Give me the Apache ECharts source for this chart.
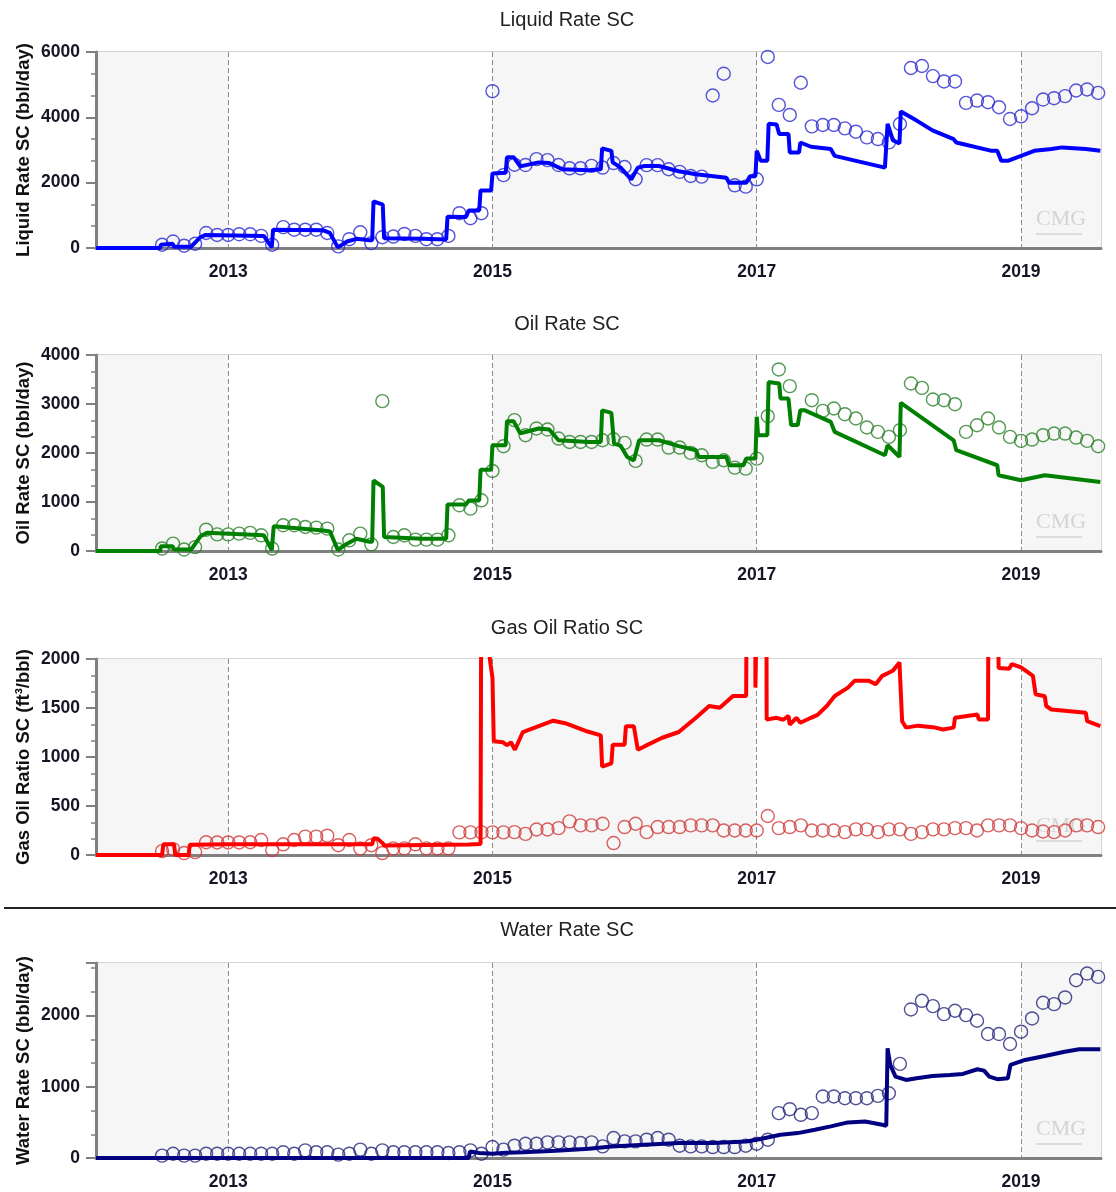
<!DOCTYPE html>
<html><head><meta charset="utf-8">
<script src="https://cdn.jsdelivr.net/npm/echarts@6/dist/echarts.min.js"></script>
<style>html,body{margin:0;padding:0;background:#fff;}#main{width:1116px;height:1192px;}</style>
</head><body><div id="main"></div>
<script>
// ---------------- DATA ----------------
// Observed monthly values, first value = July 2012 (month index 6 from Jan 2012)
const obsFirstMonth = 6;
const liquidObs = [100,200,70,130,460,400,400,420,420,370,100,640,560,560,560,460,50,270,480,150,330,350,430,370,270,270,370,1065,910,1065,
  4800,2230,2550,2540,2720,2690,2540,2440,2440,2514,2463,2600,2480,2104,2536,2536,2411,2329,2206,2186,4668,5335,1919,1878,
  2103,5848,4381,4073,5058,3724,3765,3765,3663,3560,3386,3335,3232,3796,5510,5571,5263,5099,5099,4443,4514,4463,4309,3950,
  4032,4278,4545,4586,4648,4822,4853,4750];
const oilObs = [50,150,30,80,435,340,340,354,370,320,50,525,525,490,477,456,30,218,354,136,3058,286,320,232,232,232,320,933,865,1035,
  1634,2138,2670,2363,2500,2479,2295,2226,2226,2226,2260,2280,2206,1839,2274,2274,2111,2111,2002,1954,1818,1852,1702,1682,
  1886,2751,3705,3364,null,3078,2860,2908,2792,2704,2520,2431,2329,2465,3419,3330,3092,3078,2996,2431,2567,2704,2520,2329,
  2247,2274,2363,2397,2397,2315,2247,2138];
const gorObs = [40,60,20,30,130,128,128,128,130,153,51,109,153,187,187,197,100,153,68,100,20,68,68,109,68,68,68,231,231,231,
  231,231,233,216,260,260,274,343,302,302,319,122,285,319,233,285,285,285,302,302,302,250,250,250,
  250,398,274,285,302,250,250,250,233,261,261,233,261,261,216,233,261,261,274,274,250,302,302,302,
  274,250,240,233,250,302,302,285];
const waterObs = [33,60,33,33,60,60,60,60,60,60,60,80,60,107,80,80,47,60,117,60,107,80,80,80,80,80,70,80,107,60,
  154,117,173,200,200,220,220,220,210,219,163,280,233,233,257,280,257,173,163,163,154,154,154,173,
  200,257,630,686,607,630,864,864,840,840,840,873,910,1322,2087,2209,2134,2022,2069,2008,1929,1742,1742,1602,
  1775,1961,2181,2162,2256,2498,2592,2545];

// Simulated series: [decimal year, value]
const liquidSim = [[2012.0,0],[2012.486,0],[2012.49,100],[2012.58,130],[2012.59,40],[2012.72,40],[2012.79,330],[2012.83,400],
  [2013.27,370],[2013.33,20],[2013.34,560],[2013.72,540],[2013.77,460],[2013.83,20],[2013.90,200],[2013.97,280],[2014.07,240],
  [2014.09,240],[2014.10,1430],[2014.17,1330],[2014.18,300],[2014.47,280],[2014.65,260],[2014.66,960],[2014.80,950],
  [2014.82,1150],[2014.90,1150],[2014.91,1760],[2014.99,1760],[2015.00,2280],[2015.10,2300],[2015.11,2780],[2015.16,2780],
  [2015.21,2500],[2015.28,2560],[2015.35,2620],[2015.43,2600],[2015.53,2410],[2015.73,2380],[2015.82,2410],[2015.83,3050],
  [2015.90,2975],[2015.91,2620],[2015.97,2460],[2016.05,2100],[2016.10,2460],[2016.15,2510],[2016.26,2510],[2016.41,2350],
  [2016.54,2260],[2016.77,2150],[2016.79,2000],[2016.92,2000],[2016.95,2200],[2016.99,2200],[2017.00,2975],[2017.03,2670],
  [2017.08,2670],[2017.09,3800],[2017.15,3780],[2017.17,3490],[2017.24,3490],[2017.25,2920],[2017.32,2920],[2017.33,3230],
  [2017.41,3100],[2017.56,3030],[2017.59,2820],[2017.97,2460],[2017.99,3800],[2018.03,3300],[2018.08,3200],[2018.09,4180],
  [2018.21,3900],[2018.33,3600],[2018.49,3330],[2018.51,3230],[2018.77,2980],[2018.82,2980],[2018.85,2670],[2018.90,2670],
  [2019.00,2820],[2019.10,2975],[2019.23,3030],[2019.31,3080],[2019.49,3030],[2019.60,2975]];
const oilSim = [[2012.0,0],[2012.486,0],[2012.49,95],[2012.58,95],[2012.59,30],[2012.72,30],[2012.79,300],[2012.84,370],
  [2013.27,320],[2013.33,20],[2013.345,505],[2013.72,420],[2013.77,400],[2013.83,20],[2013.90,150],[2013.97,250],[2014.07,190],
  [2014.09,190],[2014.10,1440],[2014.17,1310],[2014.18,286],[2014.47,250],[2014.65,250],[2014.66,950],[2014.80,950],
  [2014.82,1030],[2014.90,1030],[2014.91,1660],[2014.99,1660],[2015.00,2160],[2015.10,2160],[2015.11,2650],[2015.16,2650],
  [2015.21,2400],[2015.28,2450],[2015.35,2500],[2015.43,2480],[2015.50,2260],[2015.73,2226],[2015.82,2226],[2015.83,2870],
  [2015.90,2820],[2015.92,2190],[2015.97,2150],[2016.02,1920],[2016.07,1850],[2016.11,2260],[2016.26,2260],[2016.41,2140],
  [2016.54,2057],[2016.56,1920],[2016.77,1920],[2016.79,1750],[2016.90,1750],[2016.92,1886],[2016.99,1886],[2017.00,2740],
  [2017.01,2363],[2017.08,2363],[2017.09,3450],[2017.17,3420],[2017.18,3110],[2017.24,3110],[2017.26,2570],[2017.31,2570],
  [2017.33,2874],[2017.36,2874],[2017.56,2635],[2017.59,2430],[2017.97,1954],[2017.99,2160],[2018.05,2000],[2018.08,1920],
  [2018.09,3024],[2018.49,2260],[2018.51,2057],[2018.82,1750],[2018.83,1546],[2019.00,1444],[2019.18,1546],[2019.60,1410]];
const gorSim = [[2012.0,0],[2012.50,0],[2012.51,110],[2012.59,110],[2012.60,0],[2012.70,0],[2012.71,105],[2013.00,110],
  [2014.09,110],[2014.10,170],[2014.13,165],[2014.17,120],[2014.18,96],[2014.82,106],[2014.83,113],[2014.91,113],
  [2014.92,5000],[2014.97,5000],[2014.98,2000],[2015.00,1810],[2015.01,1160],[2015.08,1150],[2015.11,1120],[2015.14,1150],
  [2015.17,1074],[2015.23,1255],[2015.30,1290],[2015.40,1340],[2015.46,1370],[2015.55,1345],[2015.66,1290],[2015.72,1260],
  [2015.82,1221],[2015.83,902],[2015.90,936],[2015.91,1125],[2016.00,1125],[2016.01,1314],[2016.07,1314],[2016.10,1074],
  [2016.15,1108],[2016.28,1194],[2016.41,1255],[2016.54,1400],[2016.64,1520],[2016.72,1502],[2016.82,1622],[2016.92,1622],
  [2016.93,5000],[2016.985,5000],[2016.99,1708],[2017.03,5000],[2017.07,5000],[2017.075,1382],[2017.15,1400],[2017.20,1380],
  [2017.24,1420],[2017.25,1330],[2017.30,1400],[2017.33,1350],[2017.41,1400],[2017.46,1430],[2017.53,1520],[2017.59,1622],
  [2017.69,1708],[2017.74,1777],[2017.85,1777],[2017.90,1742],[2017.95,1828],[2018.03,1880],[2018.08,1965],[2018.09,1965],
  [2018.10,1365],[2018.13,1300],[2018.22,1320],[2018.35,1300],[2018.41,1280],[2018.49,1300],[2018.50,1400],[2018.67,1434],
  [2018.68,1382],[2018.75,1382],[2018.76,5000],[2018.82,5000],[2018.83,1907],[2018.91,1900],[2018.93,1948],[2019.00,1914],
  [2019.09,1828],[2019.11,1640],[2019.18,1620],[2019.19,1520],[2019.23,1485],[2019.49,1451],[2019.50,1365],[2019.60,1314]];
const waterSim = [[2012.0,0],[2014.82,0],[2014.83,90],[2014.90,70],[2015.00,60],[2015.10,75],[2015.23,80],[2015.48,103],
  [2015.73,130],[2015.90,163],[2016.15,187],[2016.41,210],[2016.67,210],[2016.92,233],[2017.00,257],[2017.18,327],
  [2017.31,350],[2017.44,397],[2017.56,444],[2017.69,500],[2017.82,514],[2017.95,467],[2017.98,453],[2017.99,1541],
  [2018.01,1308],[2018.05,1144],[2018.13,1097],[2018.21,1120],[2018.33,1153],[2018.46,1167],[2018.56,1181],[2018.67,1247],
  [2018.72,1228],[2018.76,1144],[2018.82,1107],[2018.90,1120],[2018.92,1308],[2019.03,1378],[2019.18,1434],[2019.33,1494],
  [2019.44,1527],[2019.60,1527]];

const panelTitles = ['Liquid Rate SC','Oil Rate SC','Gas Oil Ratio SC','Water Rate SC'];
const yNames = ['Liquid Rate SC (bbl/day)','Oil Rate SC (bbl/day)','Gas Oil Ratio SC (ft\u00B3/bbl)','Water Rate SC (bbl/day)'];
const yMax = [6000,4000,2000,2740];
const yStep = [2000,1000,500,1000];
const xMin = 2012, xMax = 2019.605;

// ---------------- CHART ----------------
const simSets = [liquidSim, oilSim, gorSim, waterSim];
const obsSets = [liquidObs, oilObs, gorObs, waterObs];
const lineColors = ['#0000ff','#008000','#ff0000','#000080'];
const dotColors = ['#2b2bd0','#2a7f2a','#d03a3a','#25257a'];
const gridTops = [52,355,659,963];
const gridH = [196,196,196,195];
const titleY = [5,309,613,915];

function obsPairs(arr){
  const out=[];
  arr.forEach((v,i)=>{ if(v!=null) out.push([xMin + (obsFirstMonth+i)/12, v]); });
  return out;
}

const chart = echarts.init(document.getElementById('main'), null, {renderer:'canvas'});
const grids=[], xAxes=[], yAxes=[], series=[], titles=[], graphics=[];
const lblFont = {fontFamily:'Liberation Sans, Arial, sans-serif', fontWeight:'bold', fontSize:17.5, color:'#151525'};

for(let p=0;p<4;p++){
  grids.push({left:96, right:15, top:gridTops[p], height:gridH[p], show:true, borderColor:'#c8c8c8', borderWidth:1.5,
    backgroundColor:'transparent', outerBoundsMode:'none', containLabel:false});
  xAxes.push({type:'value', gridIndex:p, min:xMin, max:xMax, interval:1,
    axisLine:{show:true, onZero:false, lineStyle:{color:'#808080', width:3}},
    axisTick:{show:false},
    axisLabel:Object.assign({margin:15, formatter:v=> (Math.abs(v-Math.round(v))<1e-6 && Math.round(v)%2===1) ? String(Math.round(v)) : ''}, lblFont),
    splitLine:{show:true, lineStyle:{color:['rgba(0,0,0,0)','#8c8c8c'], type:[5,3], width:1}},
    splitArea:{show:true, areaStyle:{color:['#f6f6f6','#ffffff','#ffffff','#f6f6f6']}}
  });
  yAxes.push({type:'value', gridIndex:p, min:0, max:yMax[p], interval:yStep[p],
    name:yNames[p], nameLocation:'middle', nameGap:63, nameRotate:90, nameMoveOverlap:false,
    nameTextStyle:{fontFamily:'Liberation Sans, Arial, sans-serif', fontWeight:'bold', fontSize:18.5, color:'#111'},
    axisLine:{show:true, lineStyle:{color:'#808080', width:3}},
    axisTick:{show:true, length:10, lineStyle:{color:'#808080', width:2}},
    minorTick:{show:true, splitNumber:3, length:5, lineStyle:{color:'#808080', width:1.5}},
    axisLabel:Object.assign({margin:16, showMaxLabel: p!==3, formatter:v=>String(v)}, lblFont),
    splitLine:{show:true, lineStyle:{color:'#8c8c8c', type:[5,3], width:1}}
  });
  series.push({type:'scatter', xAxisIndex:p, yAxisIndex:p, data:obsPairs(obsSets[p]), symbol:'circle', symbolSize:13,
    itemStyle:{color:'rgba(0,0,0,0)', borderColor:dotColors[p], borderWidth:1.4}, z:2, silent:true});
  series.push({type:'line', xAxisIndex:p, yAxisIndex:p, data:simSets[p], showSymbol:false, clip:true,
    lineStyle:{color:lineColors[p], width:4}, z:3, silent:true});
  titles.push({text:panelTitles[p], left:562, top:titleY[p], textAlign:'center',
    textStyle:{fontFamily:'Liberation Sans, Arial, sans-serif', fontWeight:'normal', fontSize:20, color:'#222'}});
  // CMG watermark
  graphics.push({type:'text', left:1036, top:gridTops[p]+gridH[p]-40, style:{text:'CMG', fill:'#d4d4d4', font:'22px Liberation Serif, serif'}, z:1});
  graphics.push({type:'line', shape:{x1:1036,y1:gridTops[p]+gridH[p]-14,x2:1082,y2:gridTops[p]+gridH[p]-14}, style:{stroke:'#dcdcdc', lineWidth:2}, z:1});
}
graphics.push({type:'line', shape:{x1:4,y1:908,x2:1116,y2:908}, style:{stroke:'#222', lineWidth:2}});

chart.setOption({
  animation:false, backgroundColor:'#fff',
  title:titles, grid:grids, xAxis:xAxes, yAxis:yAxes, series:series, graphic:graphics
});
</script></body></html>
